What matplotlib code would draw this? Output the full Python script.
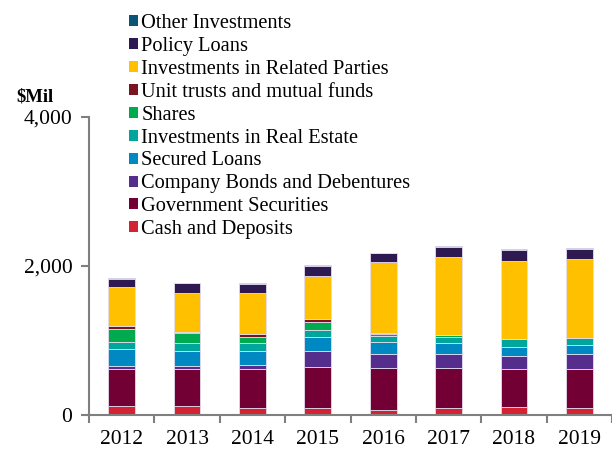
import numpy as np
import matplotlib.pyplot as plt

plt.rcParams["font.family"] = ["Liberation Serif", "DejaVu Serif"]

years = ["2012", "2013", "2014", "2015", "2016", "2017", "2018", "2019"]

# $Mil, von unten nach oben gestapelt
cash = [121, 121, 90, 90, 67, 90, 103, 94]
gov_sec = [492, 501, 532, 559, 568, 545, 510, 528]
bonds = [44, 40, 44, 214, 179, 179, 183, 192]
secured = [224, 201, 197, 188, 161, 148, 121, 121]
real_estate = [103, 99, 99, 90, 85, 80, 103, 98]
shares = [170, 134, 89, 112, 31, 31, 0, 0]
unit_trusts = [40, 22, 36, 31, 8, 5, 0, 0]
related = [519, 523, 546, 586, 948, 1047, 1051, 1056]
policy = [117, 126, 125, 126, 125, 130, 139, 135]
other = [10, 8, 8, 12, 5, 9, 13, 18]

series = [
    ("Cash and Deposits", cash, "#d42233"),
    ("Government Securities", gov_sec, "#730034"),
    ("Company Bonds and Debentures", bonds, "#552d8c"),
    ("Secured Loans", secured, "#0088c2"),
    ("Investments in Real Estate", real_estate, "#00a69c"),
    ("Shares", shares, "#00ab4f"),
    ("Unit trusts and mutual funds", unit_trusts, "#7a1420"),
    ("Investments in Related Parties", related, "#ffc000"),
    ("Policy Loans", policy, "#2e1a50"),
    ("Other Investments", other, "#0b5477"),
]

fig = plt.figure(figsize=(6.12, 4.49), dpi=100)
# Achse: x 89..612 px, y 117..415 px
ax = fig.add_axes([89 / 612, 34 / 449, 523 / 612, 298 / 449])

x = np.arange(len(years))
bottom = np.zeros(len(years))
handles = []
for label, vals, col in series:
    vals = np.array(vals, dtype=float)
    b = ax.bar(x, vals, width=0.41, bottom=bottom, color=col,
               edgecolor="#e4dcef", linewidth=0.6, label=label)
    handles.append(b)
    bottom += vals

ax.set_ylim(0, 4000)
ax.set_xlim(-0.5, 7.5 - 5 / 66)
ax.set_yticks([0, 2000, 4000])
ax.set_yticklabels(["0", "2,000", "4,000"], fontsize=15.5)

# Ticks an Kategoriegrenzen, Beschriftung in der Mitte
ax.set_xticks(x)
ax.set_xticklabels(years, fontsize=15.5)
ax.set_xticks(np.arange(-0.5, 8, 1), minor=True)
ax.tick_params(axis="x", which="major", length=0, pad=11)
ax.tick_params(axis="x", which="minor", length=6, width=1.5, color="#7f7f7f")
ax.tick_params(axis="y", length=6, width=1.5, color="#7f7f7f", pad=6)

for s in ["top", "right"]:
    ax.spines[s].set_visible(False)
for s in ["left", "bottom"]:
    ax.spines[s].set_color("#7f7f7f")
    ax.spines[s].set_linewidth(1.5)

fig.text(16 / 612, 1 - 97 / 449, "$Mil", fontsize=13.5, fontweight="bold",
         va="center", ha="left")

leg = fig.legend(handles[::-1], [s[0] for s in series][::-1],
                 loc="upper left", bbox_to_anchor=(121 / 612, 1 - 6 / 449),
                 frameon=False, fontsize=14.7, handlelength=0.45, handleheight=0.45,
                 handletextpad=0.15, labelspacing=0.19, borderaxespad=0)
for h in leg.legend_handles:
    h.set_edgecolor("none")

fig.savefig("out.png", dpi=100)
